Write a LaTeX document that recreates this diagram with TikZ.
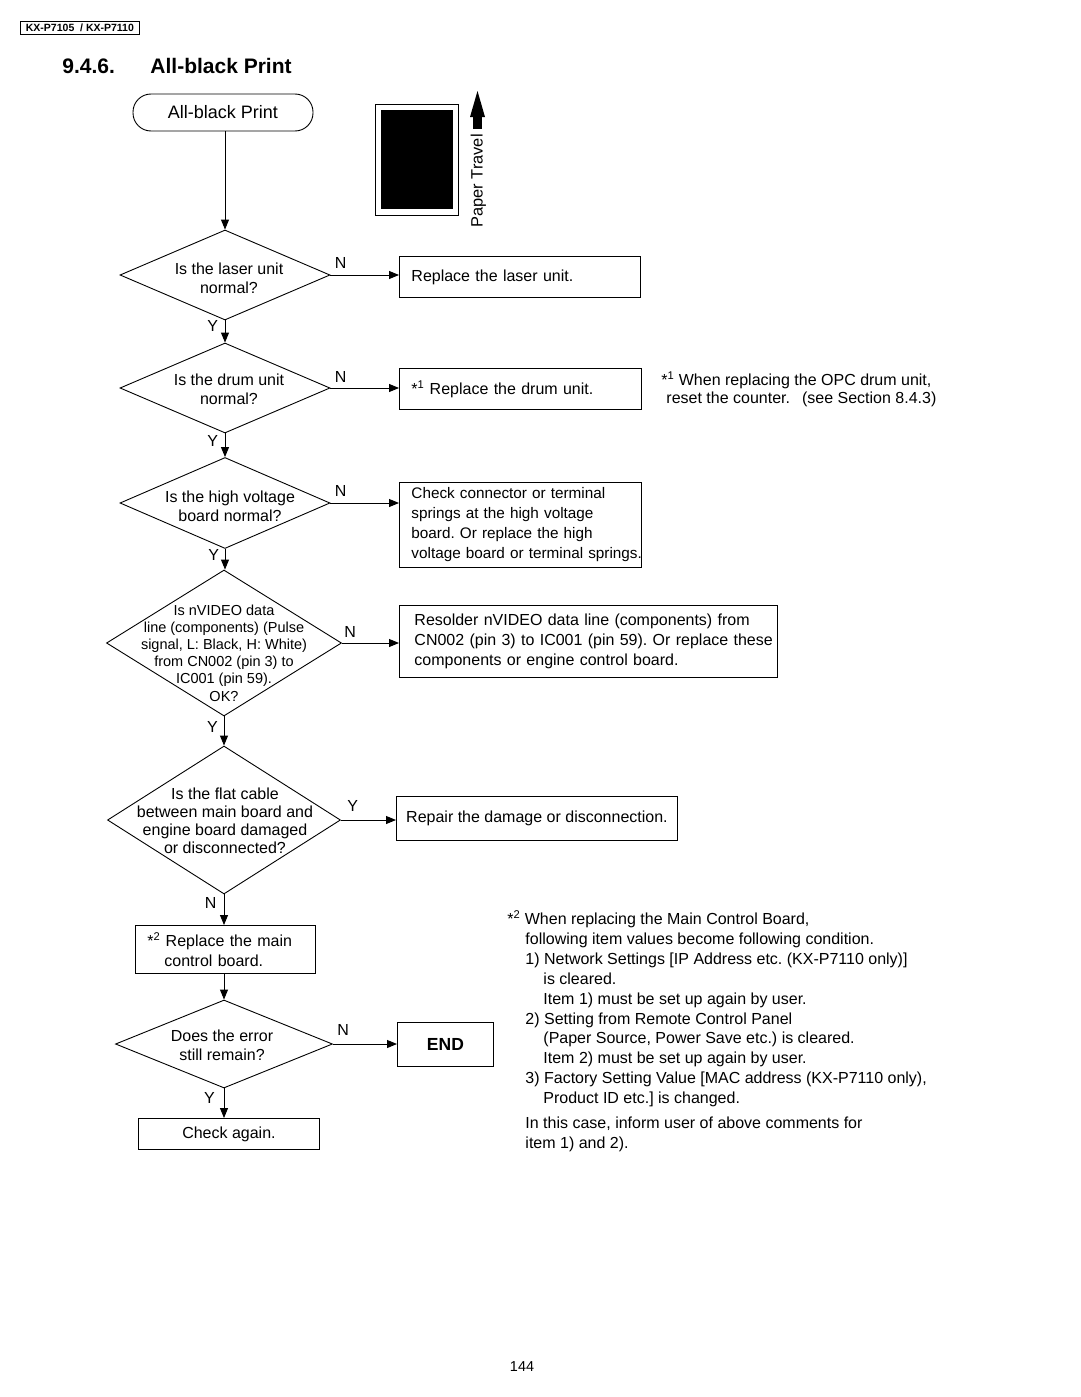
\documentclass[tikz,border=0pt]{standalone}
\usepackage{fontspec}
\setmainfont{Liberation Sans}
\usetikzlibrary{arrows.meta,shapes.geometric}
\newcommand{\fsz}[2]{\fontsize{#1}{#2}\selectfont}
\frenchspacing
\begin{document}
\begin{tikzpicture}[x=1pt,y=-1pt,line width=0.9pt,
  box/.style={draw, rectangle, anchor=north west, inner ysep=0pt, font=\fsz{16}{20}},
  dia/.style={draw, diamond, inner sep=0pt, shape aspect=1},
  dtext/.style={inner sep=0pt, align=center, font=\fsz{16}{19}},
  arr/.style={-{Triangle[length=10pt,width=8pt]}},
  lab/.style={inner sep=0pt, font=\fsz{16}{19}},
  note/.style={inner sep=0pt, align=left, font=\fsz{16}{19.9}}]
\fill[white] (0,0) rectangle (1080,1397);
\useasboundingbox (0,0) rectangle (1080,1397);

% header
\node[draw, line width=0.8pt, anchor=north west, minimum width=119pt, minimum height=13pt, inner sep=0pt,
  font=\fsz{10.5}{12}\bfseries] (hdr) at (20,21) {KX-P7105~ / KX-P7110};
\node[anchor=base west, inner sep=0pt, font=\fsz{21}{24}\bfseries] (tnum) at (62,74) {9.4.6.};
\node[anchor=base west, inner sep=0pt, font=\fsz{21}{24}\bfseries] (ttl) at (150,74) {All-black Print};

% paper icon
\draw[line width=0.9pt] (375,104) rectangle (458,215);
\fill (381,110) rectangle (453,209);
\fill (473,129) rectangle (482,116);
\fill (470,117) -- (485,117) -- (477.5,91) -- cycle;
\node[rotate=90, anchor=west, inner sep=0pt, font=\fsz{16.4}{19}] (ptravel) at (478.5,228) {Paper Travel};

% start
\node[draw, rectangle, rounded corners=18pt, minimum width=180pt, minimum height=37pt, inner sep=0pt,
  font=\fsz{18}{20}] (start) at (223,112.5) {All-black Print};

% diamonds
\node[dia, minimum width=210pt, minimum height=90pt] (d1) at (225,275) {};
\node[dtext, xshift=4pt, yshift=-3pt] (t1) at (d1) {Is the laser unit\\normal?};
\node[dia, minimum width=210pt, minimum height=90pt] (d2) at (225,388) {};
\node[dtext, xshift=4pt, yshift=-1.5pt] (t2) at (d2) {Is the drum unit\\normal?};
\node[dia, minimum width=210pt, minimum height=91pt] (d3) at (225,503) {};
\node[dtext, xshift=5pt, yshift=-3pt] (t3) at (d3) {Is the high voltage\\board normal?};
\node[dia, minimum width=235pt, minimum height=146pt] (d4) at (224,643) {};
\node[dtext, font=\fsz{14.5}{17.2}, yshift=-10pt] (t4) at (d4) {Is nVIDEO data\\line (components) (Pulse\\signal, L: Black, H: White)\\from CN002 (pin 3) to\\IC001 (pin 59).\\OK?};
\node[dia, minimum width=233pt, minimum height=148pt] (d5) at (224,820) {};
\node[dtext, font=\fsz{16}{18}, xshift=1pt, yshift=-1pt] (t5) at (d5) {Is the flat cable\\between main board and\\engine board damaged\\or disconnected?};
\node[dia, minimum width=217pt, minimum height=88pt] (d6) at (224,1044) {};
\node[dtext, xshift=-2pt, yshift=-1pt] (t6) at (d6) {Does the error\\still remain?};

% boxes
\node[box, minimum width=241pt, minimum height=41pt, inner xsep=12pt, text width=217pt, align=left] (b1) at (399,256) {Replace the laser unit.};
\node[box, minimum width=242pt, minimum height=41pt, inner xsep=12pt, text width=218pt, align=left] (b2) at (399,368) {*\textsuperscript{1} Replace the drum unit.};
\node[box, minimum width=242pt, minimum height=85pt, inner xsep=12pt, text width=218pt, align=left, font=\fsz{15.3}{20}] (b3) at (399,482)
  {\mbox{Check connector or terminal}\\\mbox{springs at the high voltage}\\\mbox{board. Or replace the high}\\\mbox{voltage board or terminal springs.}};
\node[box, minimum width=378pt, minimum height=72pt, inner xsep=15pt, text width=348pt, align=left] (b4) at (399,605)
  {\mbox{Resolder nVIDEO data line (components) from}\\\mbox{CN002 (pin 3) to IC001 (pin 59). Or replace these}\\\mbox{components or engine control board.}};
\node[box, minimum width=281pt, minimum height=44pt, inner xsep=0pt, align=center] (b5) at (396,796) {Repair the damage or disconnection.};
\node[box, minimum width=180pt, minimum height=48pt, inner xsep=12pt, text width=156pt, align=left] (b6) at (135,925)
  {*\textsuperscript{2} Replace the main\\\hspace*{17pt}control board.};
\node[box, minimum width=96pt, minimum height=44pt, inner xsep=0pt, align=center, font=\fsz{17.5}{20}\bfseries] (end) at (397,1022) {END};
\node[box, minimum width=181pt, minimum height=31pt, inner xsep=0pt, align=center] (b7) at (138,1118) {Check again.};

% vertical connectors
\draw[arr] (start.south -| d1.north) -- (d1.north);
\draw[arr] (d1.south) -- (d2.north) node[lab, pos=0, anchor=north east, xshift=-6.5pt, yshift=0pt] (y1) {Y};
\draw[arr] (d2.south) -- (d3.north) node[lab, pos=0, anchor=north east, xshift=-6.5pt, yshift=-2pt] (y2) {Y};
\draw[arr] (d3.south) -- (d3.south |- d4.north) node[lab, pos=0, anchor=north east, xshift=-5.5pt, yshift=-0.5pt] (y3) {Y};
\draw[arr] (d4.south) -- (d5.north) node[lab, pos=0, anchor=north east, xshift=-5.7pt, yshift=-5pt] (y4) {Y};
\draw[arr] (d5.south) -- (d5.south |- b6.north) node[lab, pos=0, anchor=north east, xshift=-7pt, yshift=-3pt] (n5) {N};
\draw[arr] (b6.south -| d6.north) -- (d6.north);
\draw[arr] (d6.south) -- (d6.south |- b7.north) node[lab, pos=0, anchor=north east, xshift=-8.7pt, yshift=-4pt] (y6) {Y};

% horizontal connectors
\draw[arr] (d1.east) -- (d1.east -| b1.west) node[lab, pos=0, anchor=south west, xshift=4pt, yshift=6pt] (n1) {N};
\draw[arr] (d2.east) -- (d2.east -| b2.west) node[lab, pos=0, anchor=south west, xshift=4pt, yshift=5pt] (n2) {N};
\draw[arr] (d3.east) -- (d3.east -| b3.west) node[lab, pos=0, anchor=south west, xshift=4pt, yshift=6pt] (n3) {N};
\draw[arr] (d4.east) -- (d4.east -| b4.west) node[lab, pos=0, anchor=south west, xshift=2pt, yshift=5pt] (n4) {N};
\draw[arr] (d5.east) -- (d5.east -| b5.west) node[lab, pos=0, anchor=south west, xshift=6pt, yshift=8pt] (y5) {Y};
\draw[arr] (d6.east) -- (d6.east -| end.west) node[lab, pos=0, anchor=south west, xshift=4pt, yshift=8pt] (n6) {N};

% notes
\node[note, anchor=west, font=\fsz{16}{18}] (note1) at (661,389)
  {*\textsuperscript{1} When replacing the OPC drum unit,\\\hspace*{5pt}reset the counter.\hspace{12pt}(see Section 8.4.3)};
\node[note, anchor=north west] (note2) at (507,910)
  {*\textsuperscript{2} When replacing the Main Control Board,\\
   \hspace*{18pt}following item values become following condition.\\
   \hspace*{18pt}1) Network Settings [IP Address etc. (KX-P7110 only)]\\
   \hspace*{36pt}is cleared.\\
   \hspace*{36pt}Item 1) must be set up again by user.\\
   \hspace*{18pt}2) Setting from Remote Control Panel\\
   \hspace*{36pt}(Paper Source, Power Save etc.) is cleared.\\
   \hspace*{36pt}Item 2) must be set up again by user.\\
   \hspace*{18pt}3) Factory Setting Value [MAC address (KX-P7110 only),\\
   \hspace*{36pt}Product ID etc.] is changed.\\[5pt]
   \hspace*{18pt}In this case, inform user of above comments for\\
   \hspace*{18pt}item 1) and 2).};

\node[inner sep=0pt, font=\fsz{14.4}{16}] (page) at (522,1367) {144};
\end{tikzpicture}
\end{document}
